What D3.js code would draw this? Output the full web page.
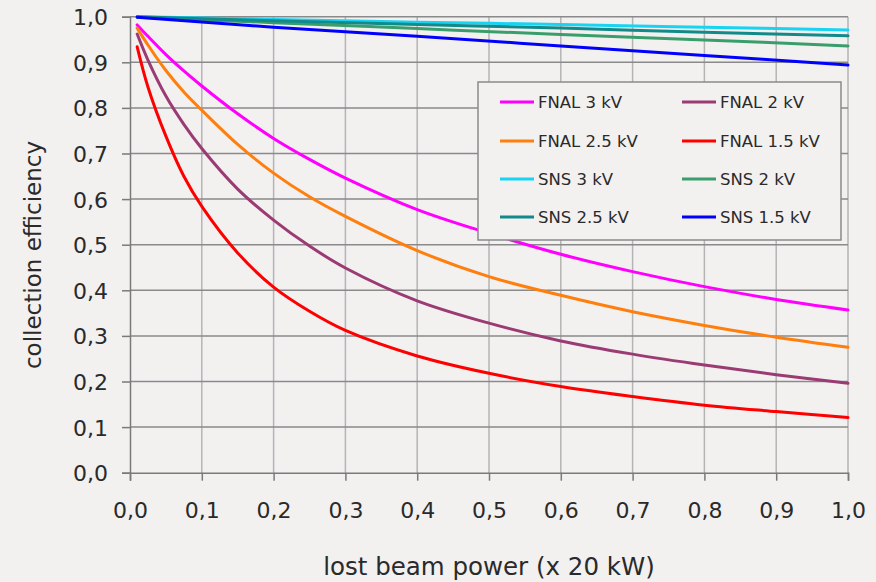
<!DOCTYPE html>
<html>
<head>
<meta charset="utf-8">
<script src="https://cdn.jsdelivr.net/npm/d3@7/dist/d3.min.js"></script>
<style>
  html, body { margin: 0; padding: 0; background: #f3f0f0; }
  svg { display: block; }
  text { font-family: "DejaVu Sans", Verdana, sans-serif; fill: #2a2a2a; }
</style>
</head>
<body>
<svg id="chart" width="876" height="582"></svg>
<script>
// ---- data ----
const fnalX = [0.01, 0.025, 0.05, 0.075, 0.1, 0.15, 0.2, 0.25, 0.3, 0.4, 0.5, 0.6, 0.7, 0.8, 0.9, 1.0];
const fnal3kV   = [0.982, 0.957, 0.917, 0.881, 0.848, 0.787, 0.733, 0.687, 0.646, 0.577, 0.525, 0.479, 0.441, 0.408, 0.380, 0.357];
const fnal25kV  = [0.975, 0.938, 0.882, 0.835, 0.795, 0.720, 0.657, 0.605, 0.562, 0.487, 0.430, 0.389, 0.353, 0.323, 0.297, 0.275];
const fnal2kV   = [0.962, 0.905, 0.826, 0.764, 0.711, 0.622, 0.554, 0.497, 0.449, 0.377, 0.328, 0.289, 0.260, 0.236, 0.215, 0.196];
const fnal15kV  = [0.934, 0.846, 0.738, 0.650, 0.584, 0.482, 0.407, 0.354, 0.312, 0.256, 0.218, 0.189, 0.167, 0.148, 0.134, 0.121];

const snsX = [0.01, 0.2, 0.4, 0.6, 0.8, 1.0];
const sns3kV  = [1.000, 0.994, 0.988, 0.983, 0.977, 0.971];
const sns25kV = [1.000, 0.991, 0.983, 0.975, 0.966, 0.958];
const sns2kV  = [0.999, 0.987, 0.974, 0.961, 0.949, 0.936];
const sns15kV = [0.999, 0.977, 0.957, 0.936, 0.915, 0.894];

const seriesNames  = ["FNAL 3 kV", "FNAL 2 kV", "FNAL 2.5 kV", "FNAL 1.5 kV", "SNS 3 kV", "SNS 2 kV", "SNS 2.5 kV", "SNS 1.5 kV"];
const seriesColors = ["#ff00ff", "#9b3b73", "#ff7f0e", "#ff0000", "#19d3f3", "#3a9e6c", "#138a8a", "#0000ff"];

const xTicks = [0, 0.1, 0.2, 0.3, 0.4, 0.5, 0.6, 0.7, 0.8, 0.9, 1.0];
const yTicks = [0, 0.1, 0.2, 0.3, 0.4, 0.5, 0.6, 0.7, 0.8, 0.9, 1.0];

const xTitle = "lost beam power (x 20 kW)";
const yTitle = "collection efficiency";

// ---- build series table ----
const series = [
  { name: "FNAL 3 kV",   x: fnalX, y: fnal3kV },
  { name: "FNAL 2 kV",   x: fnalX, y: fnal2kV },
  { name: "FNAL 2.5 kV", x: fnalX, y: fnal25kV },
  { name: "FNAL 1.5 kV", x: fnalX, y: fnal15kV },
  { name: "SNS 3 kV",    x: snsX,  y: sns3kV },
  { name: "SNS 2 kV",    x: snsX,  y: sns2kV },
  { name: "SNS 2.5 kV",  x: snsX,  y: sns25kV },
  { name: "SNS 1.5 kV",  x: snsX,  y: sns15kV }
].map(s => ({ ...s, color: seriesColors[seriesNames.indexOf(s.name)],
               pts: s.x.map((xv, i) => [xv, s.y[i]]) }));

// ---- layout ----
const svg = d3.select("#chart");
const pLeft = 130, pRight = 848, pTop = 16.7, pBottom = 472.7;
const x = d3.scaleLinear().domain([0, 1]).range([pLeft, pRight]);
const y = d3.scaleLinear().domain([0, 1]).range([pBottom, pTop]);
const fmt = d => d.toFixed(1).replace(".", ",");

// vertical grid
svg.append("g").selectAll("line").data(xTicks.slice(1)).join("line")
  .attr("x1", d => x(d)).attr("x2", d => x(d))
  .attr("y1", pTop).attr("y2", pBottom)
  .attr("stroke", "#b4b4b4").attr("stroke-width", 1.5);
// horizontal grid
svg.append("g").selectAll("line").data(yTicks.slice(1)).join("line")
  .attr("x1", pLeft).attr("x2", pRight)
  .attr("y1", d => y(d)).attr("y2", d => y(d))
  .attr("stroke", "#8a8a8a").attr("stroke-width", 1.5);

// axes
const xAxis = svg.append("g").attr("transform", `translate(0,${pBottom})`)
  .call(d3.axisBottom(x).tickValues(xTicks).tickFormat(fmt).tickSize(8).tickPadding(22));
const yAxis = svg.append("g").attr("transform", `translate(${pLeft},0)`)
  .call(d3.axisLeft(y).tickValues(yTicks).tickFormat(fmt).tickSize(8).tickPadding(14));
[xAxis, yAxis].forEach(g => {
  g.select(".domain").attr("stroke", "#7a7a7a").attr("stroke-width", 1.5);
  g.selectAll(".tick line").attr("stroke", "#7a7a7a").attr("stroke-width", 1.5);
  g.selectAll(".tick text").attr("font-size", 22).attr("fill", "#2a2a2a")
    .style("font-family", "'DejaVu Sans', Verdana, sans-serif");
});
yAxis.selectAll(".tick text").attr("dy", "0.36em");

// lines
const line = d3.line().x(d => x(d[0])).y(d => y(d[1])).curve(d3.curveCatmullRom.alpha(0.5));
svg.append("g").selectAll("path").data(series).join("path")
  .attr("d", d => line(d.pts))
  .attr("fill", "none").attr("stroke", d => d.color)
  .attr("stroke-width", 3).attr("stroke-linejoin", "round").attr("stroke-linecap", "round");

// axis titles
svg.append("text").attr("x", (pLeft + pRight) / 2).attr("y", 575)
  .attr("text-anchor", "middle").attr("font-size", 24.5).text(xTitle);
svg.append("text").attr("transform", "translate(41,255) rotate(-90)")
  .attr("text-anchor", "middle").attr("font-size", 23).text(yTitle);

// legend
const lg = svg.append("g");
lg.append("rect").attr("x", 478).attr("y", 82).attr("width", 363).attr("height", 158)
  .attr("fill", "#f3f0f0").attr("stroke", "#8a8a8a").attr("stroke-width", 1.5);
const rowY = [102, 141, 179, 217];
const colX = [500, 682];
series.forEach((s, i) => {
  const col = i % 2, row = Math.floor(i / 2);
  const g = lg.append("g").attr("transform", `translate(${colX[col]},${rowY[row]})`);
  g.append("line").attr("x1", 0).attr("x2", 34).attr("stroke", s.color).attr("stroke-width", 3);
  g.append("text").attr("x", 38).attr("dy", "0.36em").attr("font-size", 16.5).text(s.name);
});
</script>
</body>
</html>
